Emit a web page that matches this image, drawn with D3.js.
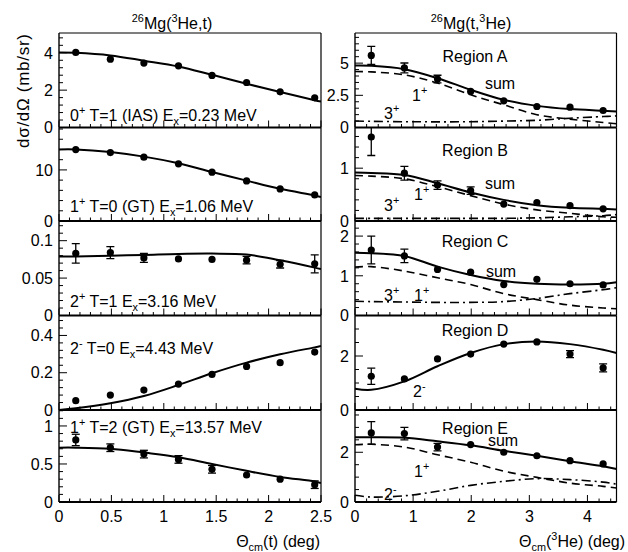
<!DOCTYPE html>
<html><head><meta charset="utf-8">
<script src="https://cdn.jsdelivr.net/npm/d3@7"></script>
<style>
body{margin:0;background:#fff}
text{font-family:"Liberation Sans",Arial,Helvetica,sans-serif;fill:#000}
</style>
</head><body>
<svg id="c" width="628" height="552"></svg>
<script>
// ---------- data ----------
const leftAngles  = [0.16, 0.49, 0.81, 1.14, 1.46, 1.79, 2.11, 2.44];
const rightAngles = [0.28, 0.85, 1.42, 1.99, 2.56, 3.13, 3.70, 4.27];
const leftCurveAngles  = [0, 0.16, 0.49, 0.81, 1.14, 1.46, 1.79, 2.11, 2.44, 2.5];
const rightCurveAngles = [0, 0.28, 0.85, 1.42, 1.99, 2.56, 3.13, 3.70, 4.27, 4.5];

// 26Mg(3He,t)
const iasData = [4.02, 3.66, 3.45, 3.30, 2.79, 2.41, 1.91, 1.59];
const iasErr  = [0.04, 0.04, 0.04, 0.04, 0.04, 0.04, 0.04, 0.04];
const iasFit  = [4.02, 4.00, 3.86, 3.58, 3.27, 2.82, 2.34, 1.90, 1.46, 1.39];

const gt0Data = [13.98, 13.4, 12.5, 11.2, 9.55, 7.84, 6.27, 5.1];
const gt0Err  = [0.1, 0.1, 0.1, 0.1, 0.1, 0.1, 0.1, 0.1];
const gt0Fit  = [14.0, 14.0, 13.5, 12.6, 11.3, 9.6, 7.9, 6.3, 5.0, 4.7];

const e316Data = [0.083, 0.084, 0.077, 0.0756, 0.075, 0.074, 0.0685, 0.069];
const e316Err  = [0.013, 0.008, 0.006, 0.004, 0.004, 0.005, 0.005, 0.012];
const e316Fit  = [0.0787, 0.0788, 0.080, 0.081, 0.0823, 0.0827, 0.0815, 0.0737, 0.064, 0.062];

const e443Data = [0.050, 0.080, 0.107, 0.139, 0.191, 0.234, 0.254, 0.311];
const e443Err  = [0.005, 0.005, 0.005, 0.005, 0.006, 0.008, 0.010, 0.018];
const e443Fit  = [0.0, 0.009, 0.036, 0.075, 0.134, 0.197, 0.254, 0.299, 0.336, 0.343];

const gt2Data = [0.816, 0.714, 0.63, 0.56, 0.43, 0.355, 0.30, 0.228];
const gt2Err  = [0.075, 0.05, 0.05, 0.05, 0.05, 0.04, 0.04, 0.05];
const gt2Fit  = [0.715, 0.715, 0.70, 0.65, 0.59, 0.50, 0.41, 0.33, 0.27, 0.25];

// 26Mg(t,3He)
const regAData = [5.6, 4.63, 3.76, 2.8, 2.07, 1.63, 1.58, 1.32];
const regAErr  = [0.7, 0.38, 0.3, 0.15, 0.1, 0.08, 0.08, 0.08];
const regASum  = [4.81, 4.79, 4.53, 3.83, 2.93, 2.15, 1.68, 1.43, 1.30, 1.24];
const regA1p   = [4.35, 4.32, 4.09, 3.45, 2.54, 1.76, 0.99, 0.65, 0.39, 0.29];
const regA3p   = [0.50, 0.48, 0.45, 0.44, 0.45, 0.50, 0.56, 0.72, 0.85, 0.90];

const regBData = [1.59, 0.905, 0.68, 0.575, 0.32, 0.35, 0.29, 0.23];
const regBErr  = [0.35, 0.13, 0.08, 0.07, 0.03, 0.03, 0.03, 0.03];
const regBSum  = [0.92, 0.91, 0.87, 0.715, 0.54, 0.40, 0.30, 0.25, 0.23, 0.22];
const regB1p   = [0.86, 0.85, 0.80, 0.65, 0.48, 0.32, 0.21, 0.146, 0.08, 0.07];
const regB3p   = [0.05, 0.05, 0.05, 0.05, 0.05, 0.05, 0.06, 0.08, 0.10, 0.12];

const regCData = [1.65, 1.50, 1.16, 1.09, 0.78, 0.91, 0.80, 0.77];
const regCErr  = [0.35, 0.17, 0.08, 0.06, 0.04, 0.05, 0.05, 0.06];
const regCSum  = [1.58, 1.57, 1.50, 1.23, 1.02, 0.87, 0.80, 0.78, 0.80, 0.84];
const regC1p   = [1.22, 1.23, 1.12, 0.95, 0.78, 0.55, 0.40, 0.26, 0.19, 0.17];
const regC3p   = [0.36, 0.35, 0.34, 0.33, 0.33, 0.35, 0.43, 0.55, 0.65, 0.70];

const regDData = [1.25, 1.15, 1.89, 2.07, 2.44, 2.52, 2.07, 1.56];
const regDErr  = [0.30, 0.10, 0.12, 0.10, 0.10, 0.10, 0.13, 0.15];
const regD2m   = [0.79, 0.75, 1.06, 1.62, 2.11, 2.44, 2.54, 2.44, 2.23, 2.11];

const regEData = [2.78, 2.75, 2.21, 2.31, 2.00, 1.86, 1.66, 1.53];
const regEErr  = [0.45, 0.25, 0.15, 0.12, 0.05, 0.05, 0.08, 0.10];
const regESum  = [2.60, 2.60, 2.58, 2.44, 2.28, 2.06, 1.86, 1.64, 1.44, 1.33];
const regE1p   = [2.30, 2.32, 2.21, 1.90, 1.60, 1.24, 0.99, 0.76, 0.63, 0.56];
const regE2m   = [0.27, 0.20, 0.25, 0.43, 0.67, 0.83, 0.94, 0.90, 0.80, 0.72];

// ---------- layout ----------
const svg = d3.select("#c");
const FONT = 16;
const bounds = [33, 127.5, 221, 315.5, 410, 502];
const xL = d3.scaleLinear().domain([0, 2.5]).range([59, 321]);
const xR = d3.scaleLinear().domain([0, 4.5]).range([355, 616.5]);

function rich(sel, x, y, parts, size, anchor, transform) {
  const t = sel.append("text").attr("x", x).attr("y", y)
    .attr("font-size", size).attr("text-anchor", anchor || "start");
  if (transform) t.attr("transform", transform);
  let shift = 0;
  parts.forEach(([s, k]) => {
    const target = k === "sup" ? -size * 0.42 : k === "sub" ? size * 0.28 : 0;
    t.append("tspan").attr("dy", target - shift)
      .attr("font-size", k === "n" ? size : size * 0.68).text(s);
    shift = target;
  });
  return t;
}

let clipId = 0;
function panel(opts) {
  const { x, row, ymax, major, minor, fmt, xMajor, xMinor, showXLabels } = opts;
  const top = bounds[row], bot = bounds[row + 1];
  const y = d3.scaleLinear().domain([0, ymax]).range([bot, top]);
  const g = svg.append("g");
  const [x0, x1] = x.range();
  const id = "clip" + (clipId++);
  svg.append("clipPath").attr("id", id).append("rect")
    .attr("x", x0).attr("y", top).attr("width", x1 - x0).attr("height", bot - top);
  const plot = g.append("g").attr("clip-path", `url(#${id})`);

  // frame
  g.append("line").attr("x1", x0).attr("x2", x0).attr("y1", top).attr("y2", bot).attr("stroke", "#000").attr("stroke-width", 1.4);
  g.append("line").attr("x1", x1).attr("x2", x1).attr("y1", top).attr("y2", bot).attr("stroke", "#000").attr("stroke-width", 1.2);
  g.append("line").attr("x1", x0).attr("x2", x1).attr("y1", bot).attr("y2", bot).attr("stroke", "#000").attr("stroke-width", 2);
  if (row === 0) g.append("line").attr("x1", x0).attr("x2", x1).attr("y1", top).attr("y2", top).attr("stroke", "#000").attr("stroke-width", 1.2);

  // y ticks
  const yMin = d3.range(0, ymax + 1e-9, minor);
  g.selectAll(null).data(yMin).enter().append("line")
    .attr("x1", x0).attr("x2", d => x0 + (Math.abs(d / major - Math.round(d / major)) < 1e-6 ? 8 : 4))
    .attr("y1", d => y(d)).attr("y2", d => y(d)).attr("stroke", "#000").attr("stroke-width", 1);
  const yMaj = d3.range(0, ymax + 1e-9, major);
  g.selectAll(null).data(yMaj).enter().append("text")
    .attr("x", x0 - 6).attr("y", d => y(d)).attr("dy", "0.36em")
    .attr("text-anchor", "end").attr("font-size", FONT).text(d => fmt(d));

  // x ticks
  const xmax = x.domain()[1];
  const xm = d3.range(0, xmax + 1e-9, xMinor);
  g.selectAll(null).data(xm).enter().append("line")
    .attr("x1", d => x(d)).attr("x2", d => x(d))
    .attr("y1", bot).attr("y2", d => bot - (Math.abs(d / xMajor - Math.round(d / xMajor)) < 1e-6 ? 7 : 3.5))
    .attr("stroke", "#000").attr("stroke-width", 1);
  if (showXLabels) {
    g.selectAll(null).data(d3.range(0, xmax + 1e-9, xMajor)).enter().append("text")
      .attr("x", d => x(d)).attr("y", bot + 20).attr("text-anchor", "middle")
      .attr("font-size", FONT).text(d => d3.format("~g")(d));
  }
  return { g, plot, y, x };
}

function curve(p, xs, ys, style) {
  const line = d3.line().x((d, i) => p.x(xs[i])).y(d => p.y(d)).curve(d3.curveCatmullRom.alpha(0.5));
  const path = p.plot.append("path").datum(ys).attr("d", line)
    .attr("fill", "none").attr("stroke", "#000");
  if (style === "solid") path.attr("stroke-width", 2);
  if (style === "dash") path.attr("stroke-width", 1.6).attr("stroke-dasharray", "8,5");
  if (style === "dashdot") path.attr("stroke-width", 1.6).attr("stroke-dasharray", "9,4,2,4");
}

function points(p, xs, ys, errs) {
  const gg = p.plot.append("g").attr("stroke", "#000").attr("stroke-width", 1.3);
  ys.forEach((v, i) => {
    const cx = p.x(xs[i]);
    const e = errs[i];
    if (p.y(v - e) - p.y(v + e) > 7) {
      gg.append("line").attr("x1", cx).attr("x2", cx).attr("y1", p.y(v - e)).attr("y2", p.y(v + e));
      gg.append("line").attr("x1", cx - 4).attr("x2", cx + 4).attr("y1", p.y(v - e)).attr("y2", p.y(v - e));
      gg.append("line").attr("x1", cx - 4).attr("x2", cx + 4).attr("y1", p.y(v + e)).attr("y2", p.y(v + e));
    }
  });
  p.plot.append("g").selectAll("circle").data(ys).enter().append("circle")
    .attr("cx", (d, i) => p.x(xs[i])).attr("cy", d => p.y(d)).attr("r", 3.6).attr("fill", "#000");
}

const f0 = d3.format("~g");

// ---------- left column ----------
const L1 = panel({ x: xL, row: 0, ymax: 5.06, major: 2, minor: 0.4, fmt: f0, xMajor: 0.5, xMinor: 0.1 });
curve(L1, leftCurveAngles, iasFit, "solid"); points(L1, leftAngles, iasData, iasErr);
rich(L1.g, 70, 121, [["0", "n"], ["+", "sup"], [" T=1 (IAS) E", "n"], ["x", "sub"], ["=0.23 MeV", "n"]], FONT);

const L2 = panel({ x: xL, row: 1, ymax: 18.3, major: 10, minor: 2, fmt: f0, xMajor: 0.5, xMinor: 0.1 });
curve(L2, leftCurveAngles, gt0Fit, "solid"); points(L2, leftAngles, gt0Data, gt0Err);
rich(L2.g, 70, 212, [["1", "n"], ["+", "sup"], [" T=0 (GT) E", "n"], ["x", "sub"], ["=1.06 MeV", "n"]], FONT);

const L3 = panel({ x: xL, row: 2, ymax: 0.1263, major: 0.05, minor: 0.01, fmt: f0, xMajor: 0.5, xMinor: 0.1 });
curve(L3, leftCurveAngles, e316Fit, "solid"); points(L3, leftAngles, e316Data, e316Err);
rich(L3.g, 70, 307, [["2", "n"], ["+", "sup"], [" T=1 E", "n"], ["x", "sub"], ["=3.16 MeV", "n"]], FONT);

const L4 = panel({ x: xL, row: 3, ymax: 0.507, major: 0.2, minor: 0.04, fmt: f0, xMajor: 0.5, xMinor: 0.1 });
curve(L4, leftCurveAngles, e443Fit, "solid"); points(L4, leftAngles, e443Data, e443Err);
rich(L4.g, 70, 354, [["2", "n"], ["-", "sup"], [" T=0 E", "n"], ["x", "sub"], ["=4.43 MeV", "n"]], FONT);

const L5 = panel({ x: xL, row: 4, ymax: 1.21, major: 0.5, minor: 0.1, fmt: f0, xMajor: 0.5, xMinor: 0.1, showXLabels: true });
curve(L5, leftCurveAngles, gt2Fit, "solid"); points(L5, leftAngles, gt2Data, gt2Err);
rich(L5.g, 70, 433, [["1", "n"], ["+", "sup"], [" T=2 (GT) E", "n"], ["x", "sub"], ["=13.57 MeV", "n"]], FONT);

// ---------- right column ----------
const R1 = panel({ x: xR, row: 0, ymax: 7.34, major: 2.5, minor: 0.5, fmt: f0, xMajor: 1, xMinor: 0.2 });
curve(R1, rightCurveAngles, regA3p, "dashdot"); curve(R1, rightCurveAngles, regA1p, "dash");
curve(R1, rightCurveAngles, regASum, "solid"); points(R1, rightAngles, regAData, regAErr);
R1.g.append("text").attr("x", 475).attr("y", 62).attr("text-anchor", "middle").attr("font-size", FONT).text("Region A");
R1.g.append("text").attr("x", 500).attr("y", 89).attr("text-anchor", "middle").attr("font-size", FONT).text("sum");
rich(R1.g, 412, 101, [["1", "n"], ["+", "sup"]], FONT);
rich(R1.g, 384, 119, [["3", "n"], ["+", "sup"]], FONT);

const R2 = panel({ x: xR, row: 1, ymax: 1.77, major: 1, minor: 0.2, fmt: f0, xMajor: 1, xMinor: 0.2 });
curve(R2, rightCurveAngles, regB3p, "dashdot"); curve(R2, rightCurveAngles, regB1p, "dash");
curve(R2, rightCurveAngles, regBSum, "solid"); points(R2, rightAngles, regBData, regBErr);
R2.g.append("text").attr("x", 475).attr("y", 156).attr("text-anchor", "middle").attr("font-size", FONT).text("Region B");
R2.g.append("text").attr("x", 500).attr("y", 189).attr("text-anchor", "middle").attr("font-size", FONT).text("sum");
rich(R2.g, 414, 200, [["1", "n"], ["+", "sup"]], FONT);
rich(R2.g, 384, 211, [["3", "n"], ["+", "sup"]], FONT);

const R3 = panel({ x: xR, row: 2, ymax: 2.38, major: 1, minor: 0.2, fmt: f0, xMajor: 1, xMinor: 0.2 });
curve(R3, rightCurveAngles, regC3p, "dashdot"); curve(R3, rightCurveAngles, regC1p, "dash");
curve(R3, rightCurveAngles, regCSum, "solid"); points(R3, rightAngles, regCData, regCErr);
R3.g.append("text").attr("x", 475).attr("y", 247).attr("text-anchor", "middle").attr("font-size", FONT).text("Region C");
R3.g.append("text").attr("x", 501).attr("y", 277).attr("text-anchor", "middle").attr("font-size", FONT).text("sum");
rich(R3.g, 414, 301, [["1", "n"], ["+", "sup"]], FONT);
rich(R3.g, 384, 301, [["3", "n"], ["+", "sup"]], FONT);

const R4 = panel({ x: xR, row: 3, ymax: 3.5, major: 2, minor: 0.5, fmt: f0, xMajor: 1, xMinor: 0.2 });
curve(R4, rightCurveAngles, regD2m, "solid"); points(R4, rightAngles, regDData, regDErr);
R4.g.append("text").attr("x", 475).attr("y", 336).attr("text-anchor", "middle").attr("font-size", FONT).text("Region D");
rich(R4.g, 413, 397, [["2", "n"], ["-", "sup"]], FONT);

const R5 = panel({ x: xR, row: 4, ymax: 3.7, major: 2, minor: 0.5, fmt: f0, xMajor: 1, xMinor: 0.2, showXLabels: true });
curve(R5, rightCurveAngles, regE2m, "dashdot"); curve(R5, rightCurveAngles, regE1p, "dash");
curve(R5, rightCurveAngles, regESum, "solid"); points(R5, rightAngles, regEData, regEErr);
R5.g.append("text").attr("x", 475).attr("y", 434).attr("text-anchor", "middle").attr("font-size", FONT).text("Region E");
R5.g.append("text").attr("x", 503).attr("y", 446).attr("text-anchor", "middle").attr("font-size", FONT).text("sum");
rich(R5.g, 414, 477, [["1", "n"], ["+", "sup"]], FONT);
rich(R5.g, 384, 500, [["2", "n"], ["-", "sup"]], FONT);

// ---------- titles & axis labels ----------
rich(svg, 172, 29, [["26", "sup"], ["Mg(", "n"], ["3", "sup"], ["He,t)", "n"]], FONT, "middle");
rich(svg, 471, 29, [["26", "sup"], ["Mg(t,", "n"], ["3", "sup"], ["He)", "n"]], FONT, "middle");
svg.append("text").attr("transform", "translate(29,34) rotate(-90)").attr("text-anchor", "end")
  .attr("font-size", 17).attr("textLength", 114).attr("lengthAdjust", "spacing").text("dσ/dΩ (mb/sr)");
rich(svg, 320, 547, [["Θ", "n"], ["cm", "sub"], ["(t) (deg)", "n"]], FONT, "end");
rich(svg, 625, 547, [["Θ", "n"], ["cm", "sub"], ["(", "n"], ["3", "sup"], ["He) (deg)", "n"]], FONT, "end");
</script>
</body></html>
